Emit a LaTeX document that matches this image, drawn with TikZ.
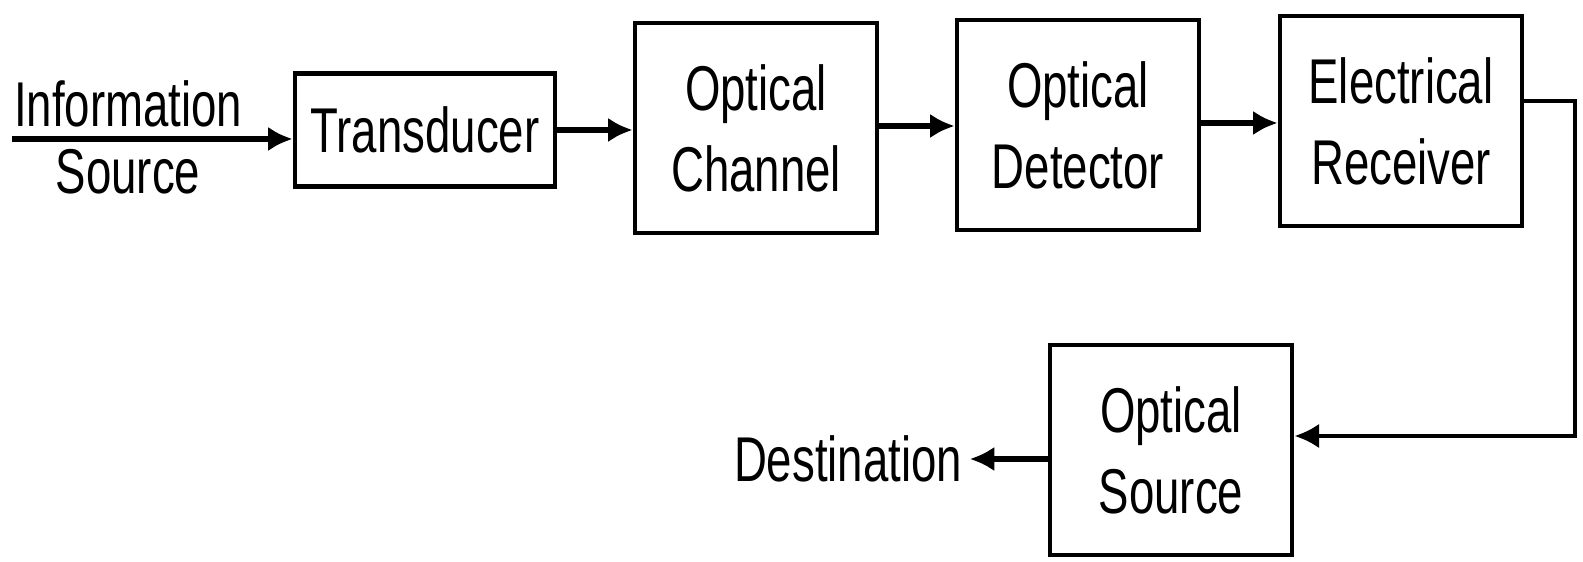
\documentclass[tikz,border=0pt]{standalone}
\usepackage{fontspec}
\setmainfont{Liberation Sans}[FakeStretch=0.72]
\usetikzlibrary{positioning,arrows.meta}

\tikzset{
  block/.style={draw,line width=1.3pt,align=center,inner sep=0pt,
    minimum width=2.42cm,minimum height=2.1cm,font=\fontsize{18}{23}\selectfont},
  txt/.style={inner sep=2pt,font=\fontsize{18}{23}\selectfont},
  flow/.style={-{Latex[length=7pt,width=7pt]},line width=1.6pt},
  back/.style={-{Latex[length=7pt,width=7pt]},line width=1.3pt}
}

\begin{document}
\begin{tikzpicture}[x=0.01cm,y=-0.01cm]

  \useasboundingbox (0,0) rectangle (1583,562);

  % Blocks
  \node [block,minimum width=2.6cm,minimum height=1.13cm] (trans) at (425,130) {Transducer};
  \node [block] (chan) at (756,128) {Optical\\Channel};
  \node [block] (det) at (1078,125) {Optical\\Detector};
  \node [block] (rec) at (1401,121) {Electrical\\Receiver};
  \node [block] (osrc) at (1171,450) {Optical\\Source};

  % Information source
  \node [coordinate] (isrc) at (12,139) {};
  \node [txt] (info) at (128,104) {Information};
  \node [txt] (srcl) at (128,172) {Source};
  \draw [flow] (isrc) -- (isrc -| trans.west);

  % Forward path
  \draw [flow] (trans.east) -- (trans.east -| chan.west);
  \draw [flow] (chan.east |- 0,126) -- (det.west |- 0,126);
  \draw [flow] (det.east |- 0,123) -- (rec.west |- 0,123);

  % Back to optical source
  \node [coordinate] (fb1) at (1575,101) {};
  \node [coordinate] (fb2) at (1575,436) {};
  \draw [back] (rec.east |- fb1) -- (fb1) -- (fb2) -- (fb2 -| osrc.east);

  % Destination
  \node [txt] (dest) at (848,459) {Destination};
  \draw [flow] (osrc.west |- dest) -- (dest.east);

\end{tikzpicture}
\end{document}
